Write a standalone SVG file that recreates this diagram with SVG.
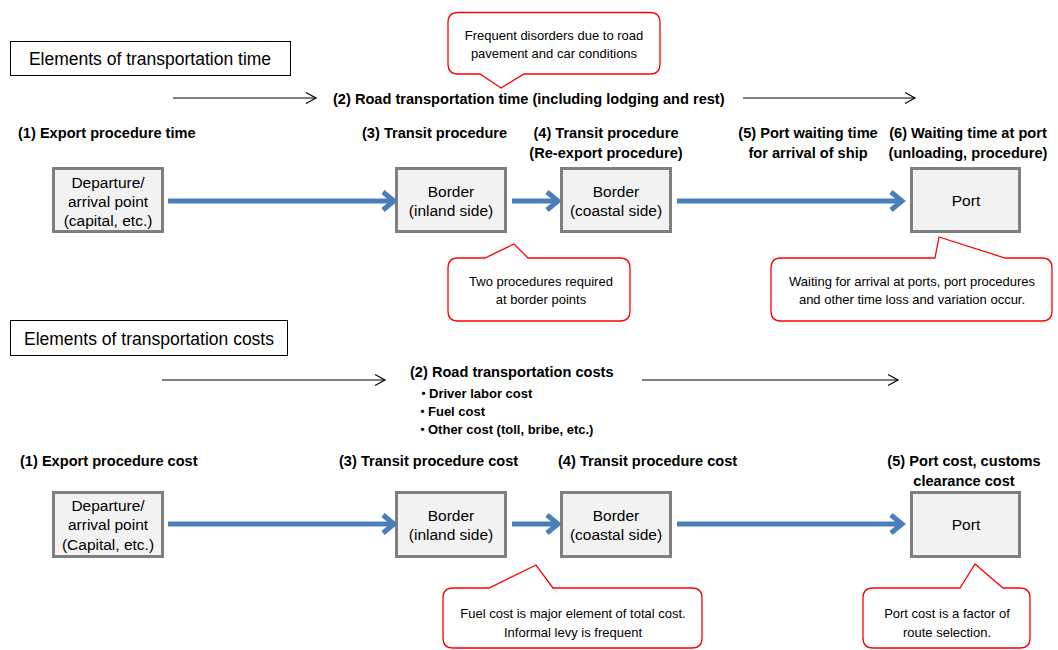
<svg xmlns="http://www.w3.org/2000/svg" width="1058" height="650" viewBox="0 0 1058 650">
<style>
.title{fill:#fff;stroke:#000;stroke-width:1}
.tt{font-family:"Liberation Sans",Arial,sans-serif;font-size:17.5px;fill:#000}
.lbl{font-family:"Liberation Sans",Arial,sans-serif;font-size:14.6px;font-weight:bold;fill:#000}
.bul{font-family:"Liberation Sans",Arial,"Noto Sans CJK JP",sans-serif;font-size:13px;font-weight:bold;fill:#000}
.node{fill:#f2f2f2;stroke:#7f7f7f;stroke-width:3}
.nt{font-family:"Liberation Sans",Arial,sans-serif;font-size:15.5px;fill:#000;text-anchor:middle}
.co{fill:#fff;stroke:#ff0000;stroke-width:1.3;stroke-linejoin:miter}
.ct{font-family:"Liberation Sans",Arial,sans-serif;font-size:13px;fill:#000;text-anchor:middle}
.blk{stroke:#000;stroke-width:1.2;fill:none}
.blue{stroke:#4a7ebb;stroke-width:5;fill:none}
.bhead{stroke:#4a7ebb;stroke-width:5;fill:none;stroke-linejoin:miter}
</style>
<defs>
<marker id="ah" markerUnits="userSpaceOnUse" markerWidth="14" markerHeight="14" viewBox="-12 -7 14 14" refX="0" refY="0" orient="auto">
<path d="M -10 -5.5 L 0 0 L -10 5.5" fill="none" stroke="#000" stroke-width="1.2"/>
</marker>
</defs>

<g id="title-time">
<rect class="title" x="10.5" y="41.5" width="280" height="34"/>
<text class="tt" x="150" y="64.5" text-anchor="middle">Elements of transportation time</text>
</g>

<g id="callout-road">
<path class="co" d="M 458 12.5 H 650 Q 660 12.5 660 22.5 V 64 Q 660 74 650 74 H 524 L 501 88 L 480 74 H 458 Q 448 74 448 64 V 22.5 Q 448 12.5 458 12.5 Z"/>
<text class="ct" x="554" y="39.5">Frequent disorders due to road</text>
<text class="ct" x="554" y="57.5">pavement and car conditions</text>
</g>

<g id="label-road-time">
<text class="lbl" x="333" y="104">(2) Road transportation time (including lodging and rest)</text>
</g>
<g id="labels-time">
<text class="lbl" x="18" y="138">(1) Export procedure time</text>
<text class="lbl" x="362" y="138">(3) Transit procedure</text>
<text class="lbl" x="606" y="138" text-anchor="middle">(4) Transit procedure</text>
<text class="lbl" x="606" y="158" text-anchor="middle">(Re-export procedure)</text>
<text class="lbl" x="808" y="138" text-anchor="middle">(5) Port waiting time</text>
<text class="lbl" x="808" y="158" text-anchor="middle">for arrival of ship</text>
<text class="lbl" x="968" y="138" text-anchor="middle">(6) Waiting time at port</text>
<text class="lbl" x="968" y="158" text-anchor="middle">(unloading, procedure)</text>
</g>

<g id="node-t1">
<rect class="node" x="53.5" y="168.5" width="109" height="63"/>
<text class="nt" x="108" y="187.5">Departure/</text>
<text class="nt" x="108" y="206.5">arrival point</text>
<text class="nt" x="108" y="225.5">(capital, etc.)</text>
</g>
<g id="node-t2">
<rect class="node" x="396.5" y="168.5" width="109" height="63"/>
<text class="nt" x="451" y="196.5">Border</text>
<text class="nt" x="451" y="215.5">(inland side)</text>
</g>
<g id="node-t3">
<rect class="node" x="561.5" y="168.5" width="109" height="63"/>
<text class="nt" x="616" y="196.5">Border</text>
<text class="nt" x="616" y="215.5">(coastal side)</text>
</g>
<g id="node-t4">
<rect class="node" x="911.5" y="168.5" width="108" height="63"/>
<text class="nt" x="966" y="206">Port</text>
</g>

<g id="callout-border">
<path class="co" d="M 458 258 H 485 L 514 244 L 528 258 H 620 Q 630 258 630 268 V 311 Q 630 321 620 321 H 458 Q 448 321 448 311 V 268 Q 448 258 458 258 Z"/>
<text class="ct" x="541" y="285.5">Two procedures required</text>
<text class="ct" x="541" y="303.5">at border points</text>
</g>
<g id="callout-port-time">
<path class="co" d="M 781 258 H 935 L 939 237 L 1005 258 H 1042 Q 1052 258 1052 268 V 311 Q 1052 321 1042 321 H 781 Q 771 321 771 311 V 268 Q 771 258 781 258 Z"/>
<text class="ct" x="912" y="285.5">Waiting for arrival at ports, port procedures</text>
<text class="ct" x="912" y="303.5">and other time loss and variation occur.</text>
</g>

<g id="title-cost">
<rect class="title" x="10.5" y="320.5" width="277" height="35"/>
<text class="tt" x="149" y="344.5" text-anchor="middle">Elements of transportation costs</text>
</g>

<g id="label-road-cost">
<text class="lbl" x="410" y="377">(2) Road transportation costs</text>
<text class="bul" y="398"><tspan x="417">・</tspan><tspan x="429">Driver labor cost</tspan></text>
<text class="bul" y="416"><tspan x="416">・</tspan><tspan x="428">Fuel cost</tspan></text>
<text class="bul" y="434"><tspan x="416">・</tspan><tspan x="428">Other cost (toll, bribe, etc.)</tspan></text>
</g>
<g id="labels-cost">
<text class="lbl" x="20" y="466">(1) Export procedure cost</text>
<text class="lbl" x="339" y="466">(3) Transit procedure cost</text>
<text class="lbl" x="558" y="466">(4) Transit procedure cost</text>
<text class="lbl" x="964" y="466" text-anchor="middle">(5) Port cost, customs</text>
<text class="lbl" x="964" y="486" text-anchor="middle">clearance cost</text>
</g>

<g id="node-c1">
<rect class="node" x="53.5" y="492.5" width="109" height="64"/>
<text class="nt" x="108" y="510.5">Departure/</text>
<text class="nt" x="108" y="530">arrival point</text>
<text class="nt" x="108" y="549.5">(Capital, etc.)</text>
</g>
<g id="node-c2">
<rect class="node" x="396.5" y="492.5" width="109" height="64"/>
<text class="nt" x="451" y="520.5">Border</text>
<text class="nt" x="451" y="539.5">(inland side)</text>
</g>
<g id="node-c3">
<rect class="node" x="561.5" y="492.5" width="109" height="64"/>
<text class="nt" x="616" y="520.5">Border</text>
<text class="nt" x="616" y="539.5">(coastal side)</text>
</g>
<g id="node-c4">
<rect class="node" x="911.5" y="492.5" width="108" height="64"/>
<text class="nt" x="966" y="530">Port</text>
</g>

<g id="callout-fuel">
<path class="co" d="M 453 588 H 489 L 536 565 L 553 588 H 692 Q 702 588 702 598 V 638 Q 702 648 692 648 H 453 Q 443 648 443 638 V 598 Q 443 588 453 588 Z"/>
<text class="ct" x="573" y="617.5">Fuel cost is major element of total cost.</text>
<text class="ct" x="573" y="636.5">Informal levy is frequent</text>
</g>
<g id="callout-port-cost">
<path class="co" d="M 873 588 H 960 L 975 564 L 1003 588 H 1020 Q 1030 588 1030 598 V 638 Q 1030 648 1020 648 H 873 Q 863 648 863 638 V 598 Q 863 588 873 588 Z"/>
<text class="ct" x="947" y="617.5">Port cost is a factor of</text>
<text class="ct" x="947" y="636.5">route selection.</text>
</g>

<g id="connectors">
<line class="blk" x1="173" y1="98" x2="316" y2="98" marker-end="url(#ah)"/>
<line class="blk" x1="743" y1="98" x2="915" y2="98" marker-end="url(#ah)"/>
<line class="blk" x1="162" y1="380" x2="385" y2="380" marker-end="url(#ah)"/>
<line class="blk" x1="642" y1="380" x2="898" y2="380" marker-end="url(#ah)"/>

<line class="blue" x1="168" y1="201" x2="393" y2="201"/>
<polyline class="bhead" points="383,192 394,201 383,210"/>
<line class="blue" x1="512" y1="201" x2="557" y2="201"/>
<polyline class="bhead" points="547,192 558,201 547,210"/>
<line class="blue" x1="677" y1="201" x2="901" y2="201"/>
<polyline class="bhead" points="891,192 902,201 891,210"/>

<line class="blue" x1="168" y1="524" x2="393" y2="524"/>
<polyline class="bhead" points="383,515 394,524 383,533"/>
<line class="blue" x1="512" y1="524" x2="557" y2="524"/>
<polyline class="bhead" points="547,515 558,524 547,533"/>
<line class="blue" x1="677" y1="524" x2="901" y2="524"/>
<polyline class="bhead" points="891,515 902,524 891,533"/>
</g>
</svg>
